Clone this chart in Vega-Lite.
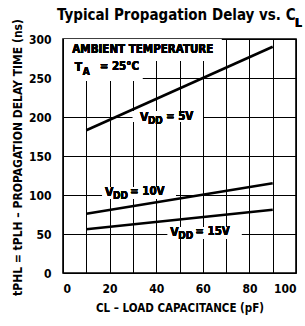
{
  "$schema": "https://vega.github.io/schema/vega-lite/v6.json",
  "width": 233,
  "height": 234,
  "autosize": {"type": "none"},
  "padding": {"left": 63, "top": 39, "right": 9, "bottom": 53},
  "config": {
    "font": "Liberation Sans Narrow, DejaVu Sans Condensed, sans-serif",
    "view": {"stroke": "#000", "strokeWidth": 1.6},
    "background": "#fff",
    "axis": {
      "grid": true,
      "gridColor": "#000", "gridOpacity": 1, "gridWidth": 1,
      "domain": false, "ticks": false, "labelOverlap": false,
      "labelColor": "#000", "labelFontWeight": "bold", "labelFontSize": 12,
      "titleColor": "#000", "titleFontWeight": "bold"
    }
  },
  "title": {
    "text": "Typical Propagation Delay vs. C",
    "anchor": "start", "frame": "group", "dx": -6, "offset": -6,
    "fontSize": 15, "fontWeight": "bold", "color": "#000"
  },
  "data": {
    "values": [
      {"series": "5V", "cl": 10, "delay": 183},
      {"series": "5V", "cl": 90, "delay": 290},
      {"series": "10V", "cl": 10, "delay": 76},
      {"series": "10V", "cl": 90, "delay": 115},
      {"series": "15V", "cl": 10, "delay": 56},
      {"series": "15V", "cl": 90, "delay": 81}
    ]
  },
  "layer": [
    {"mark": {"type": "rect", "fill": "#fff"},
      "encoding": {"x": {"datum": 0.5}, "x2": {"datum": 68}, "y": {"datum": 272}, "y2": {"datum": 299.5}}},
    {"mark": {"type": "rect", "fill": "#fff"},
      "encoding": {"x": {"datum": 0.5}, "x2": {"datum": 34}, "y": {"datum": 246}, "y2": {"datum": 272}}},
    {"mark": {"type": "rect", "fill": "#fff"},
      "encoding": {"x": {"datum": 30}, "x2": {"datum": 60}, "y": {"datum": 194}, "y2": {"datum": 207}}},
    {"mark": {"type": "rect", "fill": "#fff"},
      "encoding": {"x": {"datum": 17}, "x2": {"datum": 48.5}, "y": {"datum": 95}, "y2": {"datum": 110}}},
    {"mark": {"type": "rect", "fill": "#fff"},
      "encoding": {"x": {"datum": 45}, "x2": {"datum": 76.5}, "y": {"datum": 44}, "y2": {"datum": 59}}},
    {
      "mark": {"type": "line", "color": "#000", "strokeWidth": 2.6},
      "encoding": {
        "x": {"field": "cl", "type": "quantitative", "scale": {"domain": [0, 100], "nice": false},
          "axis": {"grid": true, "tickCount": 50, "values": [0,10,20,30,40,50,60,70,80,90,100], "labelExpr": "datum.value % 20 == 0 ? datum.label : ''",
            "labelPadding": 10, "title": "CL \u2013 LOAD CAPACITANCE (pF)", "titleFontSize": 11.5, "titlePadding": 8}},
        "y": {"field": "delay", "type": "quantitative", "scale": {"domain": [0, 300], "nice": false},
          "axis": {"grid": true, "tickCount": 50, "values": [0,50,100,150,200,250,300], "labelPadding": 12,
            "title": "tPHL = tPLH \u2013 PROPAGATION DELAY TIME (ns)", "titleFontSize": 12,
            "titleX": -46, "titleY": 118, "titleAngle": -90, "titleBaseline": "middle", "titleAlign": "center"}},
        "detail": {"field": "series"}
      }
    },
    {"mark": {"type": "text", "text": "AMBIENT TEMPERATURE", "align": "left", "baseline": "middle", "fontSize": 11.5, "fontWeight": "bold"},
      "encoding": {"x": {"datum": 4}, "y": {"datum": 286}}},
    {"mark": {"type": "text", "text": "T", "align": "left", "baseline": "middle", "fontSize": 12, "fontWeight": "bold"},
      "encoding": {"x": {"datum": 5}, "y": {"datum": 264}}},
    {"mark": {"type": "text", "text": "A", "align": "left", "baseline": "middle", "fontSize": 10, "fontWeight": "bold", "dx": 8, "dy": 5},
      "encoding": {"x": {"datum": 5}, "y": {"datum": 264}}},
    {"mark": {"type": "text", "text": "= 25\u00b0C", "align": "left", "baseline": "middle", "fontSize": 11.5, "fontWeight": "bold", "dx": 25},
      "encoding": {"x": {"datum": 5}, "y": {"datum": 264}}},
    {"mark": {"type": "text", "text": "V", "align": "left", "baseline": "middle", "fontSize": 12, "fontWeight": "bold"},
      "encoding": {"x": {"datum": 33}, "y": {"datum": 200}}},
    {"mark": {"type": "text", "text": "DD", "align": "left", "baseline": "middle", "fontSize": 10, "fontWeight": "bold", "dx": 8, "dy": 4},
      "encoding": {"x": {"datum": 33}, "y": {"datum": 200}}},
    {"mark": {"type": "text", "text": "= 5V", "align": "left", "baseline": "middle", "fontSize": 11.5, "fontWeight": "bold", "dx": 26},
      "encoding": {"x": {"datum": 33}, "y": {"datum": 200}}},
    {"mark": {"type": "text", "text": "V", "align": "left", "baseline": "middle", "fontSize": 12, "fontWeight": "bold"},
      "encoding": {"x": {"datum": 18}, "y": {"datum": 104}}},
    {"mark": {"type": "text", "text": "DD", "align": "left", "baseline": "middle", "fontSize": 10, "fontWeight": "bold", "dx": 8, "dy": 4},
      "encoding": {"x": {"datum": 18}, "y": {"datum": 104}}},
    {"mark": {"type": "text", "text": "= 10V", "align": "left", "baseline": "middle", "fontSize": 11.5, "fontWeight": "bold", "dx": 25},
      "encoding": {"x": {"datum": 18}, "y": {"datum": 104}}},
    {"mark": {"type": "text", "text": "V", "align": "left", "baseline": "middle", "fontSize": 12, "fontWeight": "bold"},
      "encoding": {"x": {"datum": 46}, "y": {"datum": 52.5}}},
    {"mark": {"type": "text", "text": "DD", "align": "left", "baseline": "middle", "fontSize": 10, "fontWeight": "bold", "dx": 8, "dy": 4},
      "encoding": {"x": {"datum": 46}, "y": {"datum": 52.5}}},
    {"mark": {"type": "text", "text": "= 15V", "align": "left", "baseline": "middle", "fontSize": 11.5, "fontWeight": "bold", "dx": 25},
      "encoding": {"x": {"datum": 46}, "y": {"datum": 52.5}}},
    {"mark": {"type": "text", "text": "L", "align": "left", "baseline": "alphabetic", "fontSize": 12, "fontWeight": "bold", "dx": -1},
      "encoding": {"x": {"datum": 100}, "y": {"datum": 316}}}
  ]
}
